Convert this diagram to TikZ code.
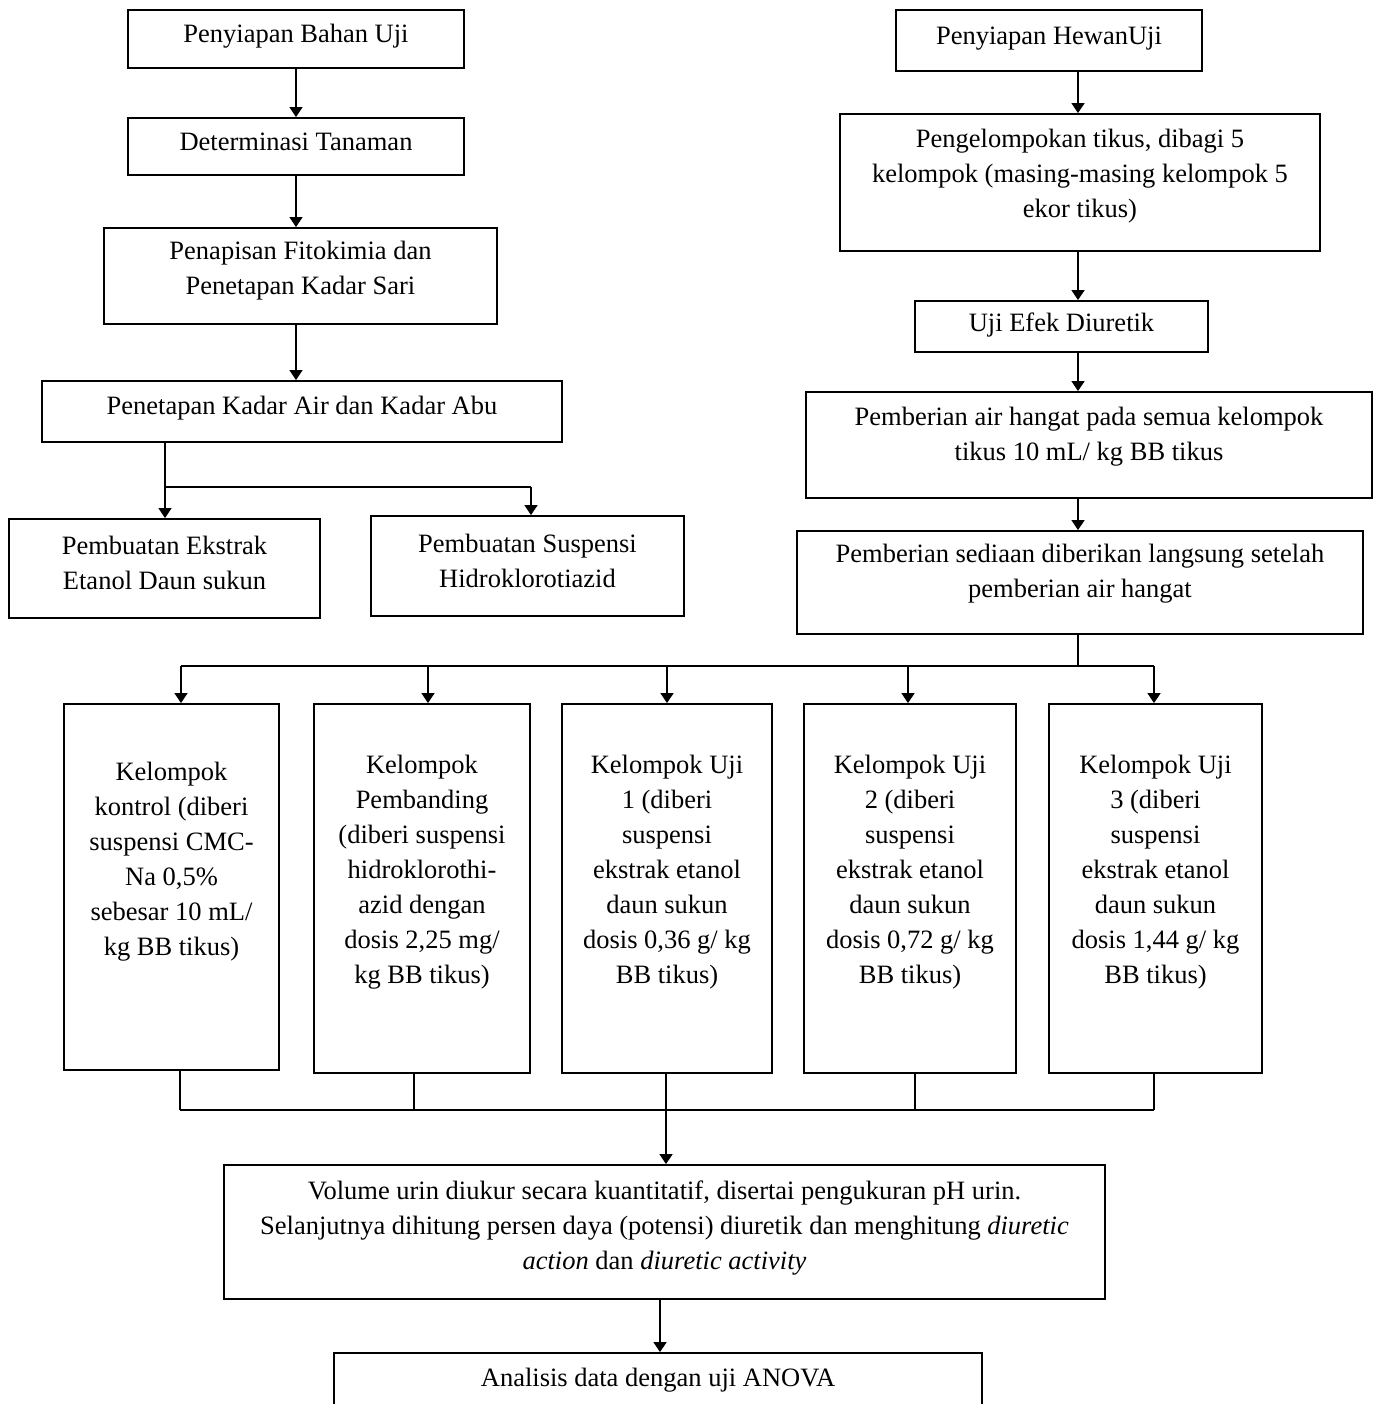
\documentclass[tikz,border=0pt]{standalone}
\usepackage{fontspec}
\setmainfont{Liberation Serif}
\usetikzlibrary{arrows.meta}
\newcommand\bx[4]{\parbox[c][#2pt][c]{#1pt}{\centering #4\par\vspace*{#3pt}}}
\begin{document}
\begin{tikzpicture}[x=1pt,y=-1pt,font=\fontsize{26.5}{35}\selectfont,
  box/.style={draw, line width=1.8pt, inner sep=0pt, fill=white},
  conn/.style={line width=1.4pt},
  arr/.style={line width=1.4pt, -{Triangle[length=10pt,width=13pt]}}]
\clip (0,0) rectangle (1378,1404);
% left column
\node[box] (b1) at (296,39) {\bx{336}{58}{6}{Penyiapan Bahan Uji}};
\node[box] (b2) at (296,146.5) {\bx{336}{57}{9}{Determinasi Tanaman}};
\node[box] (b3) at (300.5,276) {\bx{393}{96}{11}{Penapisan Fitokimia dan\\Penetapan Kadar Sari}};
\node[box] (b4) at (302,411.5) {\bx{520}{61}{7}{Penetapan Kadar Air dan Kadar Abu}};
\node[box] (b5) at (164.5,568.5) {\bx{311}{99}{12}{Pembuatan Ekstrak\\Etanol Daun sukun}};
\node[box] (b6) at (527.5,566) {\bx{313}{100}{11}{Pembuatan Suspensi\\Hidroklorotiazid}};
% right column
\node[box] (r1) at (1049,40.5) {\bx{306}{61}{3}{Penyiapan HewanUji}};
\node[box] (r2) at (1080,182.5) {\bx{480}{137}{13}{Pengelompokan tikus, dibagi 5\\kelompok (masing-masing kelompok 5\\ekor tikus)}};
\node[box] (r3) at (1061.5,326.5) {\bx{293}{51}{3}{Uji Efek Diuretik}};
\node[box] (r4) at (1089,445) {\bx{566}{106}{17}{Pemberian air hangat pada semua kelompok\\tikus 10 mL/ kg BB tikus}};
\node[box] (r5) at (1080,582.5) {\bx{566}{103}{17}{Pemberian sediaan diberikan langsung setelah\\pemberian air hangat}};
% groups
\node[box] (k1) at (171.5,887) {\bx{215}{366}{50}{Kelompok\\kontrol (diberi\\suspensi CMC-\\Na 0,5\%\\sebesar 10 mL/\\kg BB tikus)}};
\node[box] (k2) at (422,888.5) {\bx{216}{369}{32}{Kelompok\\Pembanding\\(diberi suspensi\\hidroklorothi-\\azid dengan\\dosis 2,25 mg/\\kg BB tikus)}};
\node[box] (k3) at (667,888.5) {\bx{210}{369}{32}{Kelompok Uji\\1 (diberi\\suspensi\\ekstrak etanol\\daun sukun\\dosis 0,36 g/ kg\\BB tikus)}};
\node[box] (k4) at (910,888.5) {\bx{212}{369}{32}{Kelompok Uji\\2 (diberi\\suspensi\\ekstrak etanol\\daun sukun\\dosis 0,72 g/ kg\\BB tikus)}};
\node[box] (k5) at (1155.5,888.5) {\bx{213}{369}{32}{Kelompok Uji\\3 (diberi\\suspensi\\ekstrak etanol\\daun sukun\\dosis 1,44 g/ kg\\BB tikus)}};
% bottom
\node[box] (v) at (664.5,1232) {\bx{881}{134}{8}{Volume urin diukur secara kuantitatif, disertai pengukuran pH urin.\\Selanjutnya dihitung persen daya (potensi) diuretik dan menghitung \emph{diuretic}\\\emph{action} dan \emph{diuretic activity}}};
\node[box] (a) at (658,1383) {\bx{648}{60}{6}{Analisis data dengan uji ANOVA}};
% coordinates
\coordinate (lx) at (296,0);
\coordinate (rx) at (1078,0);
\coordinate (j1) at (165,487);
\coordinate (j2) at (531,487);
\coordinate (t1) at (181,666);
\coordinate (t2) at (428,666);
\coordinate (t3) at (667,666);
\coordinate (t4) at (908,666);
\coordinate (t5) at (1154,666);
\coordinate (u1) at (180,1110);
\coordinate (u2) at (414,1110);
\coordinate (u3) at (666,1110);
\coordinate (u4) at (915,1110);
\coordinate (u5) at (1154,1110);
\coordinate (vx) at (660,0);
% left connectors
\draw[arr] (b1.south -| lx) -- (b2.north -| lx);
\draw[arr] (b2.south -| lx) -- (b3.north -| lx);
\draw[arr] (b3.south -| lx) -- (b4.north -| lx);
\draw[arr] (b4.south -| j1) -- (b5.north -| j1);
\draw[conn] (j1) -- (j2);
\draw[arr] (j2) -- (b6.north -| j2);
% right connectors
\draw[arr] (r1.south -| rx) -- (r2.north -| rx);
\draw[arr] (r2.south -| rx) -- (r3.north -| rx);
\draw[arr] (r3.south -| rx) -- (r4.north -| rx);
\draw[arr] (r4.south -| rx) -- (r5.north -| rx);
\draw[conn] (r5.south -| rx) -- (rx |- t1);
\draw[conn] (t1) -- (t5);
\draw[arr] (t1) -- (k1.north -| t1);
\draw[arr] (t2) -- (k2.north -| t2);
\draw[arr] (t3) -- (k3.north -| t3);
\draw[arr] (t4) -- (k4.north -| t4);
\draw[arr] (t5) -- (k5.north -| t5);
% bottom bus
\draw[conn] (k1.south -| u1) -- (u1);
\draw[conn] (k2.south -| u2) -- (u2);
\draw[conn] (k3.south -| u3) -- (u3);
\draw[conn] (k4.south -| u4) -- (u4);
\draw[conn] (k5.south -| u5) -- (u5);
\draw[conn] (u1) -- (u5);
\draw[arr] (u3) -- (v.north -| u3);
\draw[arr] (v.south -| vx) -- (a.north -| vx);
\end{tikzpicture}
\end{document}
